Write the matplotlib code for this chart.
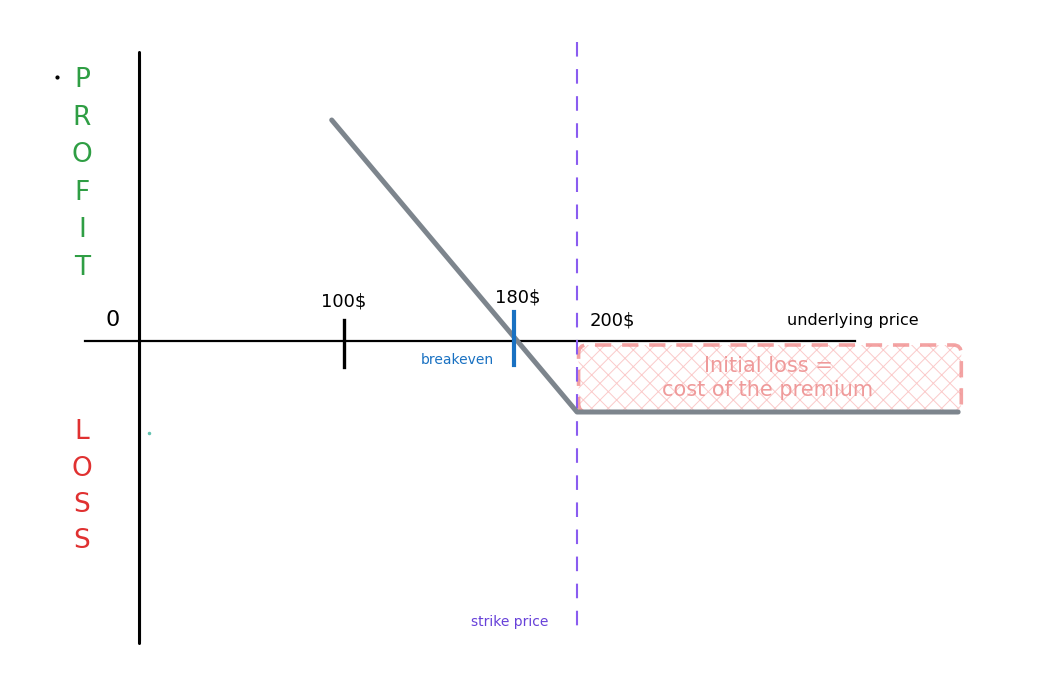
import numpy as np
import matplotlib
matplotlib.use("Agg")
import matplotlib.pyplot as plt
from matplotlib.patches import FancyBboxPatch

# option data (long put)
strike = 200
premium = 20
breakeven = 180
marked_price = 100
payoff_price = [94, 200, 321]
payoff_value = [86, -20, -20]
box_price = [200.5, 322]

# the sketch is not drawn to scale, so map prices / profits piecewise
price_anchor = [-300, 0, 100, 180, 200, 600]
price_pix = [139 - 300 * 2.05, 139, 344, 514, 577, 577 + 400 * 3.15]
profit_anchor = [-300, -20, 0, 86, 400]
profit_pix = [412 + 280 * 3.55, 412, 341, 120, 120 - 314 * 2.57]


def fx(v):
    return np.interp(v, price_anchor, price_pix)


def ix(v):
    return np.interp(v, price_pix, price_anchor)


def fy(v):
    return -np.interp(v, profit_anchor, profit_pix)


def iy(v):
    return np.interp(-np.asarray(v), profit_pix[::-1], profit_anchor[::-1])


def py(pix):  # profit value at a pixel row
    return float(iy(-pix))


def px(pix):  # price value at a pixel column
    return float(ix(pix))


plt.rcParams["hatch.linewidth"] = 0.7

fig = plt.figure(figsize=(10.5, 6.85), dpi=100)
ax = fig.add_axes([0, 0, 1, 1])
ax.set_xscale("function", functions=(fx, ix))
ax.set_yscale("function", functions=(fy, iy))
ax.set_xlim(px(0), px(1050))
ax.set_ylim(py(685), py(0))
ax.axis("off")

green = "#2f9e44"
red = "#e03131"
blue = "#1971c2"
purple = "#8a5cf0"
gray = "#7d858d"
pink = "#f08c8c"

# axes of the diagram
ax.plot([0, 0], [py(52), py(643)], color="k", lw=2.2, solid_capstyle="round")
ax.plot([0.6, 0.6], [py(60), py(640)], color="k", lw=0.8, alpha=0.6)
ax.plot([px(85), px(855)], [0, 0], color="k", lw=1.6)
ax.text(px(113), py(320), "0", fontsize=16, ha="center", va="center")

# strike line
ax.plot([strike, strike], [py(42), py(635)], color=purple, lw=1.5,
        dashes=(7, 6))
ax.text(px(510), py(622), "strike price", color="#6741d9", fontsize=10,
        ha="center", va="center")

# premium box
box_top = py(345)
hatch_box = FancyBboxPatch((box_price[0], -premium), box_price[1] - box_price[0], box_top + premium,
                           boxstyle="round,pad=0,rounding_size=2.5",
                           facecolor="none", edgecolor="#fbcaca", lw=0, hatch="xx")
ax.add_patch(hatch_box)
edge_box = FancyBboxPatch((box_price[0], -premium), box_price[1] - box_price[0], box_top + premium,
                          boxstyle="round,pad=0,rounding_size=2.5",
                          facecolor="none", edgecolor=pink, lw=2.6, alpha=0.8,
                          linestyle=(0, (4.5, 3)))
ax.add_patch(edge_box)
ax.text(px(768), py(378), "Initial loss =\ncost of the premium", color="#ef9a9a",
        fontsize=15, ha="center", va="center", linespacing=1.3)

# payoff line
ax.plot(payoff_price, payoff_value, color=gray, lw=3.6, solid_capstyle="round",
        solid_joinstyle="round")

# price marks
ax.plot([marked_price, marked_price], [py(320), py(367)], color="k", lw=2.4)
ax.text(marked_price, py(301), f"{marked_price}$", fontsize=13, ha="center", va="center")
ax.plot([breakeven, breakeven], [py(312), py(365)], color=blue, lw=3)
ax.text(px(518), py(297), f"{breakeven}$", fontsize=13, ha="center", va="center")
ax.text(px(457), py(360), "breakeven", color=blue, fontsize=10, ha="center", va="center")
ax.text(px(612), py(320), f"{strike}$", fontsize=13, ha="center", va="center")
ax.text(px(853), py(320), "underlying price", fontsize=11.5, ha="center", va="center")

# PROFIT / LOSS labels
for i, ch in enumerate("PROFIT"):
    ax.text(px(82), py(80 + i * 37.6), ch, color=green, fontsize=19,
            ha="center", va="center")
for i, ch in enumerate("LOSS"):
    ax.text(px(82), py(432 + i * 36.5), ch, color=red, fontsize=19,
            ha="center", va="center")
ax.plot([px(57)], [py(77)], marker="o", ms=2, color="k")
ax.plot([px(149)], [py(433)], marker="o", ms=1.5, color="#63c2b0")

fig.savefig("out.png", dpi=100, facecolor="white")
